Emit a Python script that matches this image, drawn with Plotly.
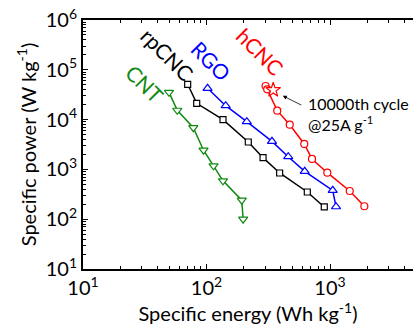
import plotly.graph_objects as go
import math

# ---- data ----
hcnc_energy = [301, 310, 374, 472, 619, 715, 951, 1445, 1897]
hcnc_power = [47300, 40600, 15100, 7900, 3240, 1620, 859, 368, 182]

rpcnc_energy = [70.4, 83.3, 136, 218, 287, 391, 655, 899]
rpcnc_power = [51200, 21200, 9950, 3550, 1720, 847, 352, 176]

rgo_energy = [102, 143, 212, 339, 459, 624, 1052, 1119]
rgo_power = [42500, 19000, 9080, 3660, 1800, 916, 380, 178]

cnt_energy = [49.7, 58.0, 78.2, 94.6, 114, 136, 193, 198]
cnt_power = [35300, 15400, 6880, 2430, 1180, 590, 241, 100]

star_energy = [347]
star_power = [39300]

x_tickvals = [10, 100, 1000]
x_ticktext = ["10<sup>1</sup>", "10<sup>2</sup>", "10<sup>3</sup>"]
y_tickvals = [10, 100, 1000, 10000, 100000, 1000000]
y_ticktext = ["10<sup>1</sup>", "10<sup>2</sup>", "10<sup>3</sup>",
              "10<sup>4</sup>", "10<sup>5</sup>", "10<sup>6</sup>"]

FONT = "Lato"
RED = "#ff0000"
BLUE = "#0000ff"
GREEN = "#118a11"
BLACK = "#000000"

fig = go.Figure()

def add(xs, ys, color, symbol, size):
    fig.add_trace(go.Scatter(
        x=xs, y=ys, mode="lines+markers",
        line=dict(color=color, width=1.5),
        marker=dict(symbol=symbol, size=size, color="white",
                    line=dict(color=color, width=1.2)),
        showlegend=False))

add(cnt_energy, cnt_power, GREEN, "triangle-down", 8)
add(rpcnc_energy, rpcnc_power, BLACK, "square", 6)
add(rgo_energy, rgo_power, BLUE, "triangle-up", 8)
add(hcnc_energy, hcnc_power, RED, "circle", 7)

fig.add_trace(go.Scatter(
    x=star_energy, y=star_power, mode="markers",
    marker=dict(symbol="star", size=11, color="white", line=dict(color=RED, width=1.2)),
    showlegend=False))

# series labels
labels = [("CNT", GREEN, 31.8, 54300), ("rpCNC", BLACK, 48.7, 207000),
          ("RGO", BLUE, 109, 157000), ("hCNC", RED, 271, 228000)]
for txt, col, xv, yv in labels:
    fig.add_annotation(x=math.log10(xv), y=math.log10(yv), text=txt,
                       showarrow=False, textangle=45,
                       font=dict(family=FONT, size=21, color=col))

# arrow to the star
fig.add_annotation(x=math.log10(415), y=math.log10(30000), ax=20, ay=10,
                   text="", showarrow=True, arrowhead=2, arrowsize=1,
                   arrowwidth=0.8, arrowcolor=BLACK, standoff=0)
fig.add_annotation(x=math.log10(640), y=math.log10(13000),
                   text="10000th cycle<br>@25A g<sup>-1</sup>",
                   showarrow=False, xanchor="left", yanchor="middle", align="left",
                   font=dict(family=FONT, size=16, color=BLACK))

minor_x = [m * 10 ** e for e in range(1, 4) for m in range(2, 10)]
minor_y = [m * 10 ** e for e in range(1, 6) for m in range(2, 10)]

fig.update_layout(
    width=413, height=327,
    margin=dict(l=83, r=0, t=20, b=58),
    paper_bgcolor="white", plot_bgcolor="white",
    font=dict(family=FONT, size=20, color=BLACK),
    xaxis=dict(type="log", range=[1, 1 + 330 / 123.5],
               tickvals=x_tickvals, ticktext=x_ticktext,
               ticks="inside", ticklen=5, tickwidth=1, tickcolor=BLACK,
               showline=True, linecolor=BLACK, linewidth=2, mirror="ticks",
               showgrid=False, zeroline=False,
               minor=dict(tickvals=minor_x, ticks="inside", ticklen=3, tickcolor=BLACK, showgrid=False),
               title=dict(text="Specific energy (Wh kg<sup>-1</sup>)", standoff=2,
                          font=dict(family=FONT, size=20)),
               tickfont=dict(family=FONT, size=20)),
    yaxis=dict(type="log", range=[1, 6],
               tickvals=y_tickvals, ticktext=y_ticktext,
               ticks="inside", ticklen=5, tickwidth=1, tickcolor=BLACK,
               showline=True, linecolor=BLACK, linewidth=2,
               showgrid=False, zeroline=False,
               minor=dict(tickvals=minor_y, ticks="inside", ticklen=3, tickcolor=BLACK, showgrid=False),
               title=dict(text="Specific power (W kg<sup>-1</sup>)", standoff=4,
                          font=dict(family=FONT, size=20)),
               tickfont=dict(family=FONT, size=20)),
)

fig.write_html("out.html")
